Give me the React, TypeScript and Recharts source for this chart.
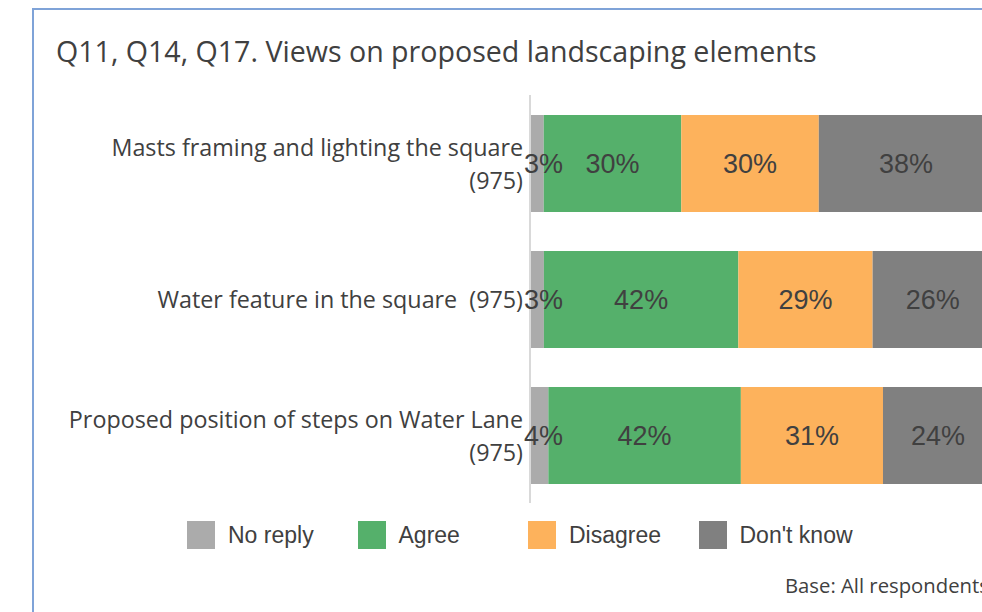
import React from "react";
import { BarChart, Bar, XAxis, YAxis, LabelList } from "recharts";

const categories = [
  "Masts framing and lighting the square (975)",
  "Water feature in the square  (975)",
  "Proposed position of steps on Water Lane (975)",
];
const tickLines = [
  ["Masts framing and lighting the square", "(975)"],
  ["Water feature in the square  (975)"],
  ["Proposed position of steps on Water Lane", "(975)"],
];
const noReply = [3, 3, 4];
const agree = [30, 42, 42];
const disagree = [30, 29, 31];
const dontKnow = [38, 26, 24];

const series = [
  { key: "noReply", name: "No reply", color: "#ababab" },
  { key: "agree", name: "Agree", color: "#55b06b" },
  { key: "disagree", name: "Disagree", color: "#fdb25c" },
  { key: "dontKnow", name: "Don't know", color: "#808080" },
];

const data = categories.map((c, i) => ({
  name: c,
  noReply: noReply[i],
  agree: agree[i],
  disagree: disagree[i],
  dontKnow: dontKnow[i],
}));

const TEXT = "#404040";
const CAT_FONT = "'Open Sans', sans-serif";
const ARIAL = "'Liberation Sans', Arial, sans-serif";

function CategoryTick(props: any) {
  const { x, y, payload } = props;
  const lines: string[] = tickLines[categories.indexOf(payload.value)] || [payload.value];
  const lh = 33;
  const start = y - ((lines.length - 1) * lh) / 2;
  return (
    <text
      x={x}
      y={start}
      textAnchor="end"
      fill={TEXT}
      fontFamily={CAT_FONT}
      fontSize={23.3}
      dominantBaseline="central"
    >
      {lines.map((l, i) => (
        <tspan key={i} x={x} y={start + i * lh} style={{ whiteSpace: "pre" }}>
          {l}
        </tspan>
      ))}
    </text>
  );
}

function makeLabel(shiftStart: boolean) {
  return (props: any) => {
    const { x, y, width, height, value } = props;
    const cx = shiftStart ? x - 6 : x + width / 2;
    return (
      <text
        x={cx}
        y={y + height / 2}
        textAnchor={shiftStart ? "start" : "middle"}
        dominantBaseline="central"
        fill={TEXT}
        fontFamily={ARIAL}
        fontSize={27}
      >
        {`${value}%`}
      </text>
    );
  };
}

function LegendBox() {
  return (
    <div style={{ display: "flex", fontFamily: ARIAL, fontSize: 23, color: TEXT }}>
      {series.map((s) => (
        <div key={s.key} style={{ width: 170.5, display: "flex", alignItems: "center" }}>
          <span style={{ width: 28, height: 28, background: s.color, display: "inline-block" }} />
          <span style={{ marginLeft: 13 }}>{s.name}</span>
        </div>
      ))}
    </div>
  );
}

export default function App() {
  return (
    <div
      style={{
        position: "fixed",
        left: 0,
        top: 0,
        width: 982,
        height: 612,
        overflow: "hidden",
        background: "#ffffff",
      }}
    >
      <div
        style={{
          position: "absolute",
          left: 32,
          top: 8,
          width: 1000,
          height: 700,
          borderLeft: "2px solid #7fa3d8",
          borderTop: "2px solid #7fa3d8",
        }}
      />
      <div
        style={{
          position: "absolute",
          left: 56,
          top: 31,
          fontFamily: CAT_FONT,
          fontSize: 28.6,
          color: TEXT,
          whiteSpace: "nowrap",
        }}
      >
        Q11, Q14, Q17. Views on proposed landscaping elements
      </div>
      <div style={{ position: "absolute", left: 0, top: 0 }}>
        <BarChart
          width={1000}
          height={612}
          data={data}
          layout="vertical"
          stackOffset="expand"
          margin={{ top: 95, right: 7, bottom: 109, left: 0 }}
          barSize={97}
        >
          <XAxis type="number" hide domain={[0, 1]} />
          <YAxis
            type="category"
            dataKey="name"
            width={530}
            tickSize={0}
            tickMargin={7}
            tickLine={false}
            axisLine={{ stroke: "#d9d9d9", strokeWidth: 2 }}
            tick={<CategoryTick />}
            interval={0}
          />
          {series.map((s, idx) => (
            <Bar
              key={s.key}
              dataKey={s.key}
              name={s.name}
              stackId="a"
              fill={s.color}
              isAnimationActive={false}
            >
              <LabelList dataKey={s.key} content={makeLabel(idx === 0)} />
            </Bar>
          ))}
        </BarChart>
      </div>
      <div style={{ position: "absolute", left: 187, top: 521 }}>
        <LegendBox />
      </div>
      <div
        style={{
          position: "absolute",
          left: 785,
          top: 571,
          fontFamily: CAT_FONT,
          fontSize: 20.3,
          color: TEXT,
          whiteSpace: "nowrap",
        }}
      >
        Base: All respondents
      </div>
    </div>
  );
}
